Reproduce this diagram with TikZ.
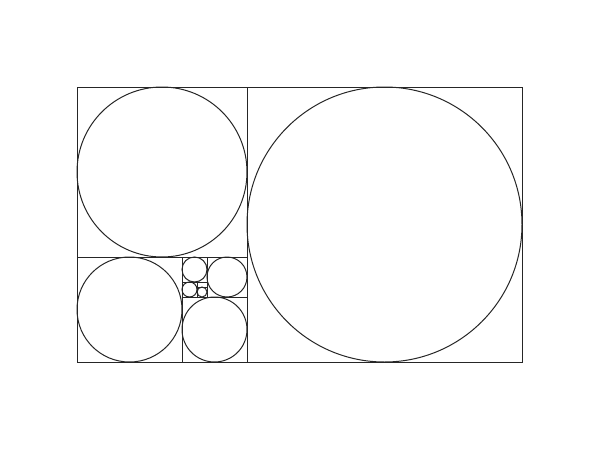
\documentclass[tikz,border=0pt]{standalone}
\begin{document}
\begin{tikzpicture}[x=1pt,y=-1pt,
  geo/.style={draw=black!85,line width=1pt}]
\useasboundingbox (0,0) rectangle (600,450);
% squares
\draw[geo] (77,87) rectangle (522,362);
\draw[geo] (247,87) rectangle (522,362);
\draw[geo] (77,87) rectangle (247,257);
\draw[geo] (77,257) rectangle (182,362);
\draw[geo] (182,297) rectangle (247,362);
\draw[geo] (207,257) rectangle (247,297);
\draw[geo] (182,257) rectangle (207,282);
\draw[geo] (182,282) rectangle (197,297);
\draw[geo] (197,287) rectangle (207,297);
\draw[geo] (197,282) rectangle (207,287);
% circles
\draw[geo] (384.5,224.5) circle[radius=137.5];
\draw[geo] (162,172) circle[radius=85];
\draw[geo] (129.5,309.5) circle[radius=52.5];
\draw[geo] (214.5,329.5) circle[radius=32.5];
\draw[geo] (227,277) circle[radius=20];
\draw[geo] (194.5,269.5) circle[radius=12.5];
\draw[geo] (189.5,289.5) circle[radius=7.5];
\draw[geo] (202,292) circle[radius=5];
\end{tikzpicture}
\end{document}
